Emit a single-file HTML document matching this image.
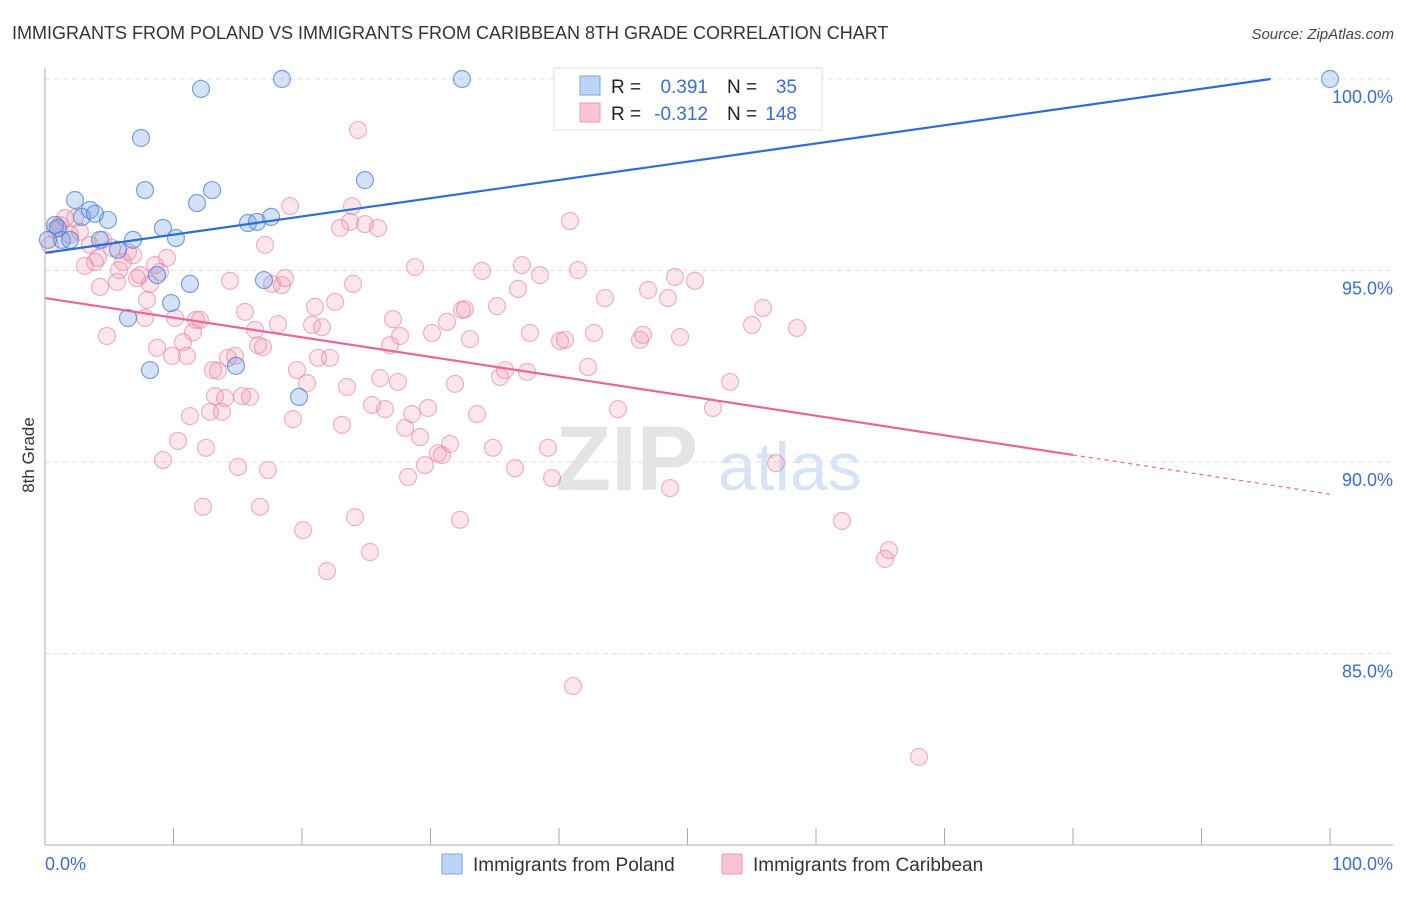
<!DOCTYPE html>
<html><head><meta charset="utf-8"><style>
body{margin:0;background:#fff;font-family:"Liberation Sans",sans-serif;}
svg text{font-family:"Liberation Sans",sans-serif;}
</style></head><body>
<svg id="chart" width="1406" height="892" xmlns="http://www.w3.org/2000/svg">
<text x="12" y="39" font-size="18" fill="#333">IMMIGRANTS FROM POLAND VS IMMIGRANTS FROM CARIBBEAN 8TH GRADE CORRELATION CHART</text>
<text x="1394" y="39" font-size="15" fill="#444" text-anchor="end" font-style="italic">Source: ZipAtlas.com</text>
<text transform="translate(34,455) rotate(-90)" font-size="17" fill="#333" text-anchor="middle">8th Grade</text>
<g id="grid"></g>
<text x="555" y="490" font-size="92" fill="#e4e4e4" font-family="Liberation Serif" font-weight="bold">ZIP</text>
<text x="718" y="490" font-size="68" fill="#d6e4f5">atlas</text>
<g id="pts"></g>
<g id="lines"></g>
<g id="axes"></g>
<g>
<rect x="554" y="68" width="268" height="62" fill="#fff" stroke="#ddd"/>
<rect x="580" y="76" width="20" height="19" fill="#bcd4f5" stroke="#7aa6e6"/>
<rect x="580" y="103" width="20" height="19" fill="#f9c5d5" stroke="#eb9ab3"/>
<text x="611" y="93" font-size="19" fill="#222">R =</text><text x="708" y="93" font-size="19" fill="#3a6fd0" text-anchor="end">0.391</text>
<text x="727" y="93" font-size="19" fill="#222">N =</text><text x="797" y="93" font-size="19" fill="#3a6fd0" text-anchor="end">35</text>
<text x="611" y="120" font-size="19" fill="#222">R =</text><text x="708" y="120" font-size="19" fill="#3a6fd0" text-anchor="end">-0.312</text>
<text x="727" y="120" font-size="19" fill="#222">N =</text><text x="797" y="120" font-size="19" fill="#3a6fd0" text-anchor="end">148</text>
</g>
<g>
<rect x="442" y="854" width="20" height="20" fill="#bcd4f5" stroke="#7aa6e6"/>
<text x="473" y="871" font-size="19" fill="#333">Immigrants from Poland</text>
<rect x="722" y="854" width="20" height="20" fill="#f9c5d5" stroke="#eb9ab3"/>
<text x="753" y="871" font-size="19" fill="#333">Immigrants from Caribbean</text>
</g>
</svg>
<script>
const polandPx=[[55,225],[62,240],[75,200],[82,217],[90,210],[95,214],[100,240],[108,220],[118,250],[128,318],[133,240],[141,138],[145,190],[150,370],[157,275],[163,228],[171,303],[176,238],[190,284],[197,203],[201,89],[212,190],[236,366],[248,223],[257,222],[264,280],[271,217],[282,79],[299,397],[365,180],[462,79],[1330,79],[48,240],[70,240],[58,228]];
const caribPx=[[50,245],[55,230],[60,225],[65,218],[70,235],[75,218],[80,232],[85,266],[90,245],[95,262],[98,258],[100,287],[103,240],[107,336],[112,248],[117,282],[119,270],[123,262],[128,252],[133,255],[137,278],[140,275],[145,318],[147,300],[150,284],[155,265],[157,348],[160,272],[163,460],[167,258],[172,356],[175,318],[178,441],[183,342],[187,356],[190,416],[193,332],[196,320],[200,320],[203,507],[206,448],[210,412],[213,370],[215,396],[218,371],[222,412],[225,398],[228,358],[230,281],[235,356],[238,467],[242,396],[245,312],[250,397],[255,330],[258,345],[260,507],[263,347],[265,245],[268,470],[272,284],[278,324],[282,285],[285,278],[290,206],[293,419],[297,370],[303,530],[307,383],[312,325],[315,307],[318,358],[322,327],[327,571],[330,358],[335,302],[340,228],[342,425],[347,387],[350,222],[352,206],[353,284],[355,517],[358,130],[365,224],[370,552],[372,405],[378,228],[380,378],[385,409],[390,345],[393,319],[398,382],[400,336],[405,428],[408,477],[412,414],[415,267],[420,437],[425,465],[428,408],[432,333],[438,453],[442,455],[447,322],[450,444],[455,384],[460,520],[462,310],[465,309],[470,339],[477,414],[482,271],[493,448],[497,306],[500,377],[505,370],[515,468],[518,289],[522,265],[527,372],[530,333],[540,275],[548,448],[552,478],[560,341],[565,340],[570,221],[573,686],[578,270],[588,367],[594,333],[605,298],[618,409],[640,340],[643,335],[648,290],[668,298],[670,488],[675,277],[680,337],[695,281],[713,408],[718,79],[730,382],[752,325],[763,308],[776,463],[797,328],[842,521],[885,559],[889,550],[919,757]];
// convert reading to data values (percent)
const r1=v=>Math.round(v*100)/100;
const polandX=polandPx.map(p=>r1((p[0]-45)/12.85));
const polandY=polandPx.map(p=>r1(100-(p[1]-79)/38.3));
const caribX=caribPx.map(p=>r1((p[0]-45)/12.85));
const caribY=caribPx.map(p=>r1(100-(p[1]-79)/38.3));
const yTicks=[100,95,90,85];
const yTickLabels=["100.0%","95.0%","90.0%","85.0%"];
const xTicks=[0,10,20,30,40,50,60,70,80,90,100];
const polandTrend=[95.46,100.22];
const caribTrend=[94.28,89.16];

const NS="http://www.w3.org/2000/svg";
const X=v=>45+v*12.85, Y=v=>79+(100-v)*38.3;
function mk(t,a,parent){const e=document.createElementNS(NS,t);for(const k in a)e.setAttribute(k,a[k]);parent.appendChild(e);return e;}
const grid=document.getElementById('grid'),axes=document.getElementById('axes'),pts=document.getElementById('pts'),lines=document.getElementById('lines');
yTicks.forEach((t,i)=>{
 const l=mk('line',{x1:45,x2:1393,y1:Y(t),y2:Y(t),stroke:'#e2e2e2','stroke-dasharray':'5,4'},grid);
 
 
 const tx=mk('text',{x:1393,y:Y(t)+24,'font-size':18,fill:'#3a6fd0','text-anchor':'end'},axes);
 tx.textContent=yTickLabels[i];
 
 
});
const ya=mk('line',{x1:45,x2:45,y1:68,y2:845,stroke:'#aaa'},axes);


const xa=mk('line',{x1:45,x2:1393,y1:845,y2:845,stroke:'#aaa'},axes);


xTicks.forEach(t=>{
 const l=mk('line',{x1:X(t),x2:X(t),y1:828,y2:845,stroke:'#aaa'},axes);
 
 
});
[[0,'0.0%','start',45],[100,'100.0%','end',1393]].forEach(d=>{
 const tx=mk('text',{x:d[3],y:870,'font-size':18,fill:'#3a6fd0','text-anchor':d[2]},axes);
 tx.textContent=d[1];
 
 
});
caribX.forEach((x,i)=>{
 const c=mk('circle',{cx:X(x),cy:Y(caribY[i]),r:8.5,fill:'rgba(240,140,170,0.22)',stroke:'rgba(232,130,165,0.6)','stroke-width':1.2},pts);
 
 
});
polandX.forEach((x,i)=>{
 const c=mk('circle',{cx:X(x),cy:Y(polandY[i]),r:8.5,fill:'rgba(110,160,230,0.3)',stroke:'rgba(70,125,215,0.7)','stroke-width':1.2},pts);
 
 
});
// blue trend clipped at 100%
const bs=(polandTrend[1]-polandTrend[0])/100;
const bxEnd=Math.min(100,(100-polandTrend[0])/bs);
const bl=mk('line',{x1:X(0),y1:Y(polandTrend[0]),x2:X(bxEnd),y2:Y(polandTrend[0]+bs*bxEnd),stroke:'#2b6fd6','stroke-width':2.2},lines);


const ps=(caribTrend[1]-caribTrend[0])/100;
const pl=mk('line',{x1:X(0),y1:Y(caribTrend[0]),x2:X(80),y2:Y(caribTrend[0]+ps*80),stroke:'#e8679a','stroke-width':2.2},lines);


const pd=mk('line',{x1:X(80),y1:Y(caribTrend[0]+ps*80),x2:X(100),y2:Y(caribTrend[1]),stroke:'#e8679a','stroke-width':1.2,'stroke-dasharray':'4,4'},lines);


</script>
</body></html>
